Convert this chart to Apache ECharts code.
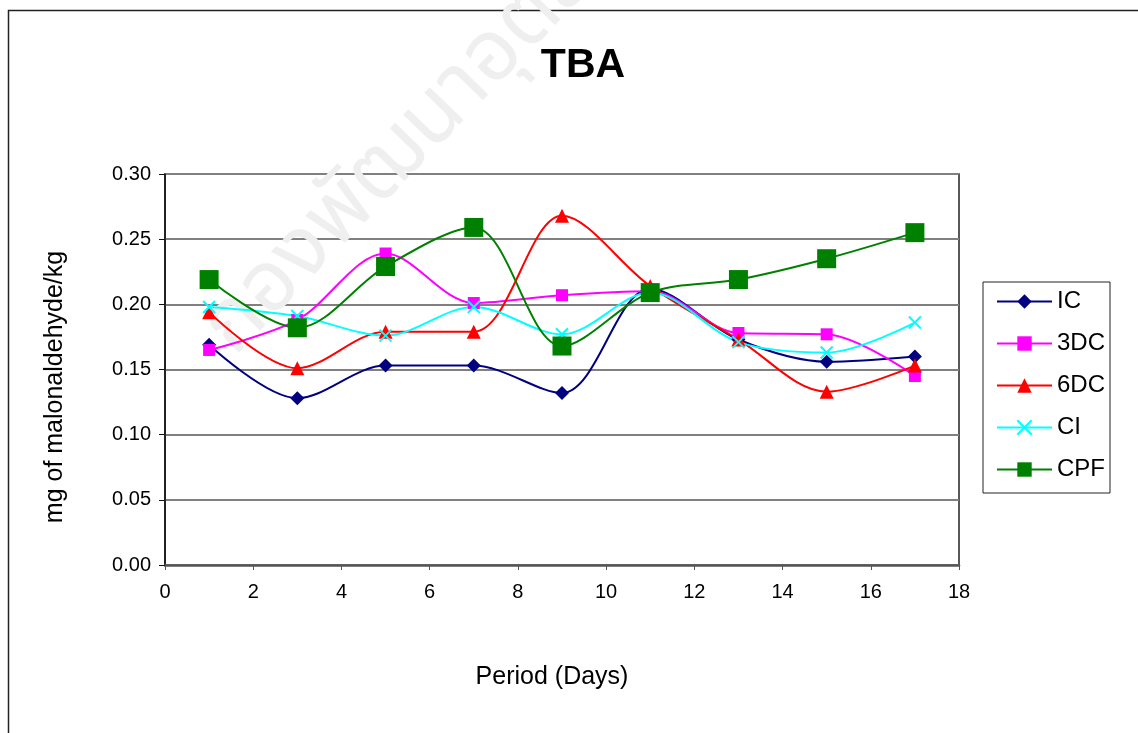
<!DOCTYPE html>
<html>
<head>
<meta charset="utf-8">
<script src="https://cdn.jsdelivr.net/npm/echarts@6/dist/echarts.min.js"></script>
<style>
  html, body { margin: 0; padding: 0; background: #fff; }
  #chart { width: 1138px; height: 733px; }
</style>
</head>
<body>
<div id="chart"></div>
<script>
// Storage period in days
const days = [1, 3, 5, 7, 9, 11, 13, 15, 17];

// TBA values (mg of malonaldehyde/kg) for each treatment
const icValues  = [0.169, 0.128, 0.153, 0.153, 0.132, 0.212, 0.173, 0.156, 0.160];
const dc3Values = [0.165, 0.188, 0.239, 0.201, 0.207, 0.210, 0.178, 0.177, 0.145];
const dc6Values = [0.194, 0.151, 0.179, 0.179, 0.268, 0.214, 0.173, 0.133, 0.153];
const ciValues  = [0.198, 0.191, 0.176, 0.198, 0.177, 0.209, 0.171, 0.163, 0.186];
const cpfValues = [0.219, 0.182, 0.229, 0.259, 0.168, 0.209, 0.219, 0.235, 0.255];

const seriesNames = ['IC', '3DC', '6DC', 'CI', 'CPF'];
const yTickLabels = ['0.00', '0.05', '0.10', '0.15', '0.20', '0.25', '0.30'];
const watermarkText = 'กองพัฒนาอุตสาหกรรม';

const FONT = '"Liberation Sans", Arial, sans-serif';
const crossPath = 'path://M0,0 L10,10 M10,0 L0,10';

function pairs(vals) {
  return days.map((d, i) => [d, vals[i]]);
}

function lineSeries(name, vals, color, symbol, size, extraItem) {
  return {
    name: name,
    type: 'line',
    data: pairs(vals),
    smooth: 0.33,
    symbol: symbol,
    symbolSize: size,
    lineStyle: { color: color, width: 2 },
    itemStyle: Object.assign({ color: color, opacity: 1 }, extraItem || {}),
    emphasis: { disabled: true },
    z: 3
  };
}

const chart = echarts.init(document.getElementById('chart'), null, { renderer: 'canvas' });

chart.setOption({
  animation: false,
  backgroundColor: '#ffffff',
  textStyle: { fontFamily: FONT },
  title: {
    text: 'TBA',
    left: 578,
    top: 40,
    textAlign: 'center',
    textStyle: { fontFamily: FONT, fontSize: 41, fontWeight: 'bold', color: '#000' }
  },
  grid: {
    left: 165, top: 174, right: 179, bottom: 168,
    show: true, borderColor: '#222', borderWidth: 1.5, backgroundColor: 'transparent'
  },
  legend: {
    data: seriesNames,
    orient: 'vertical',
    left: 983,
    top: 282,
    padding: [7, 5, 11, 13],
    itemGap: 17,
    itemWidth: 55,
    itemHeight: 18,
    borderColor: '#222',
    borderWidth: 1,
    backgroundColor: '#fff',
    textStyle: { fontFamily: FONT, fontSize: 24, color: '#000', lineHeight: 25 }
  },
  xAxis: {
    type: 'value',
    min: 0, max: 18, interval: 2,
    axisLine: { show: true, lineStyle: { color: '#555', width: 2.5 } },
    axisTick: { show: true, length: 5, lineStyle: { color: '#555', width: 1 } },
    axisLabel: { fontFamily: FONT, fontSize: 20, color: '#000', margin: 17 },
    splitLine: { show: false }
  },
  yAxis: {
    type: 'value',
    min: 0, max: 0.3, interval: 0.05,
    axisLine: { show: true, onZero: false, lineStyle: { color: '#111', width: 1.5 } },
    axisTick: { show: true, length: 6, lineStyle: { color: '#111', width: 1 } },
    axisLabel: {
      fontFamily: FONT, fontSize: 20, color: '#000', margin: 14,
      formatter: (v) => yTickLabels[Math.round(v / 0.05)]
    },
    splitLine: { show: true, lineStyle: { color: '#808080', width: 2 } }
  },
  graphic: [
    {
      // outer chart frame (top and left edges visible)
      type: 'rect', silent: true, z: 0,
      shape: { x: 8.5, y: 10.5, width: 1300, height: 900 },
      style: { fill: 'none', stroke: '#222', lineWidth: 1.5 }
    },
    {
      // faint diagonal watermark behind the plot
      type: 'text', silent: true, z: 1,
      x: 222, y: 345,
      rotation: 46 * Math.PI / 180,
      style: {
        text: watermarkText,
        font: '86px "Noto Sans Thai", "Noto Sans", "DejaVu Sans", sans-serif',
        fill: '#efefef',
        textAlign: 'left',
        textVerticalAlign: 'middle'
      }
    },
    {
      type: 'text', silent: true, z: 5,
      x: 552, y: 677,
      style: {
        text: 'Period (Days)',
        font: '25px ' + FONT,
        fill: '#000',
        textAlign: 'center',
        textVerticalAlign: 'middle'
      }
    },
    {
      type: 'text', silent: true, z: 5,
      x: 55, y: 387,
      rotation: Math.PI / 2,
      style: {
        text: 'mg of malonaldehyde/kg',
        font: '25px ' + FONT,
        fill: '#000',
        textAlign: 'center',
        textVerticalAlign: 'middle'
      }
    }
  ],
  series: [
    lineSeries('IC', icValues, '#000080', 'diamond', 14),
    lineSeries('3DC', dc3Values, '#FF00FF', 'rect', 12),
    lineSeries('6DC', dc6Values, '#FF0000', 'triangle', 14),
    lineSeries('CI', ciValues, '#00FFFF', crossPath, 12, { borderColor: '#00FFFF', borderWidth: 2 }),
    lineSeries('CPF', cpfValues, '#008000', 'rect', 19)
  ]
});
</script>
</body>
</html>
